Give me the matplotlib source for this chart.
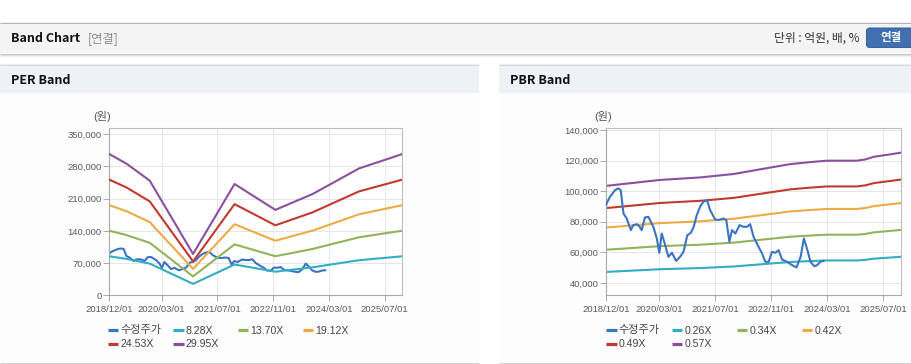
import matplotlib
matplotlib.use('Agg')
import matplotlib.pyplot as plt
import matplotlib.dates as mdates
from matplotlib.patches import Rectangle, FancyBboxPatch
from matplotlib.lines import Line2D
import numpy as np
import pandas as pd

# ---------------- data ----------------
price_dates = ['2018-12-01', '2018-12-04', '2019-01-02', '2019-02-15', '2019-03-14', '2019-04-05',
               '2019-04-29', '2019-05-27', '2019-07-02', '2019-07-23', '2019-08-23', '2019-09-13',
               '2019-10-04', '2019-11-01', '2019-12-01', '2020-01-13', '2020-02-12', '2020-03-05',
               '2020-03-26', '2020-04-25', '2020-05-23', '2020-06-22', '2020-07-29', '2020-08-31',
               '2020-10-01', '2020-11-03', '2020-12-04', '2020-12-28', '2021-01-24', '2021-02-24',
               '2021-03-23', '2021-04-23', '2021-05-20', '2021-07-02', '2021-08-01', '2021-09-13',
               '2021-10-07', '2021-11-03', '2021-11-25', '2021-12-25', '2022-01-31', '2022-03-05',
               '2022-04-05', '2022-05-02', '2022-06-01', '2022-07-14', '2022-08-14', '2022-09-10',
               '2022-10-10', '2022-11-07', '2022-12-07', '2023-01-04', '2023-02-03', '2023-03-18',
               '2023-05-02', '2023-06-08', '2023-07-14', '2023-08-11', '2023-09-07', '2023-10-08',
               '2023-11-10', '2023-12-04', '2024-01-01', '2024-01-28']
price_values = [90900, 92000, 96300, 100700, 101800, 100700,
                85400, 82100, 74500, 77800, 78400, 77100,
                74500, 82800, 83200, 76700, 69100, 59700,
                72300, 64700, 57000, 59700, 54400, 57000,
                60300, 71200, 72800, 76700, 84300, 90200,
                93100, 94200, 87600, 81500, 81100, 82100,
                81100, 66900, 74500, 72300, 77800, 76700,
                76700, 78400, 70100, 63600, 59200, 53800,
                53800, 60300, 59700, 61400, 55300, 53800,
                51600, 50100, 57000, 69100, 62500, 53800,
                50900, 51600, 53800, 54400]

per_dates = ['2018-12-01', '2019-05-01', '2019-11-19', '2020-12-01', '2021-11-28',
             '2022-11-19', '2023-10-10', '2024-11-19', '2025-05-16', '2025-12-01']
per_eps = [10250, 9550, 8320, 3000, 8080, 6200, 7350, 9210, 9700, 10250]
per_multiples = [8.28, 13.70, 19.12, 24.53, 29.95]
per_labels = ['8.28X', '13.70X', '19.12X', '24.53X', '29.95X']

pbr_dates = ['2018-12-01', '2020-03-11', '2021-02-24', '2021-12-10', '2022-07-29', '2023-04-17',
             '2023-10-08', '2024-03-02', '2024-11-15', '2025-01-28', '2025-04-11', '2025-09-01',
             '2025-12-01']
pbr_bps = [181500, 188300, 191200, 195100, 200500, 206500,
           208800, 210400, 210400, 211900, 214900, 217700, 219600]
pbr_multiples = [0.26, 0.34, 0.42, 0.49, 0.57]
pbr_labels = ['0.26X', '0.34X', '0.42X', '0.49X', '0.57X']

price_label = '수정주가'
x_tick_dates = ['2018-12-01', '2020-03-01', '2021-07-01', '2022-11-01', '2024-03-01', '2025-07-01']
x_tick_labels = ['2018/12/01', '2020/03/01', '2021/07/01', '2022/11/01', '2024/03/01', '2025/07/01']
per_yticks = [0, 70000, 140000, 210000, 280000, 350000]
pbr_yticks = [40000, 60000, 80000, 100000, 120000, 140000]

# ---------------- style ----------------
price_color = '#3b74c2'
band_colors = ['#31adc4', '#93b25a', '#eeaa45', '#c13a2d', '#8a509d']
W, H = 912, 364
KR = ['Liberation Sans', 'Noto Sans CJK KR']
KRB = ['Noto Sans CJK KR', 'DejaVu Sans']

fig = plt.figure(figsize=(W / 100, H / 100), dpi=100)
fig.patch.set_facecolor('white')

bg = fig.add_axes([0, 0, 1, 1])
bg.set_xlim(0, W)
bg.set_ylim(H, 0)
bg.axis('off')


def hline(y, x0, x1, color, lw=1.0):
    bg.plot([x0, x1], [y, y], color=color, lw=lw * 0.72, solid_capstyle='butt')


# header bar
bg.add_patch(Rectangle((0, 22), W, 31, facecolor='#f4f4f4', edgecolor='none'))
hline(22.5, 0, W, '#b3b3b3')
hline(53.5, 0, W, '#c4c4c4')
hline(54.5, 0, W, '#dedede')
hline(55.5, 0, W, '#efefef')
bg.text(11, 38.5, 'Band Chart', fontsize=9, fontweight='bold', family=KRB, color='#111111',
        va='center', ha='left')
bg.text(88, 38.5, '[연결]', fontsize=8.8, family=KRB, color='#8a8a8a', va='center', ha='left')
bg.text(860, 38.5, '단위 : 억원, 배, %', fontsize=8.5, family=KRB, color='#333333',
        va='center', ha='right')
bg.add_patch(FancyBboxPatch((866.5, 28), 50, 19.5, boxstyle='round,pad=0,rounding_size=3',
                            facecolor='#4070b0', edgecolor='#35609c', lw=0.7))
bg.text(891, 38, '연결', fontsize=8.3, fontweight='bold', family=KRB, color='white',
        va='center', ha='center')

# panels
for x0, x1, title in [(0, 479, 'PER Band'), (499, W, 'PBR Band')]:
    bg.add_patch(Rectangle((x0, 64), x1 - x0, 29, facecolor='#eef2f7', edgecolor='none'))
    bg.add_patch(Rectangle((x0, 93), x1 - x0, 269, facecolor='#fdfdfd', edgecolor='none'))
    hline(64.5, x0, x1, '#d6d6d6')
    hline(362.5, x0, x1, '#d4d4d4')
    bg.text(x0 + 11, 80, title, fontsize=9, fontweight='bold', family=KRB, color='#111111',
            va='center', ha='left')


def ax_rect(l, t, r, b):
    return [l / W, 1 - b / H, (r - l) / W, (b - t) / H]


pdates = pd.to_datetime(price_dates)
xt = pd.to_datetime(x_tick_dates)
xmin, xmax = pd.Timestamp('2018-12-01'), pd.Timestamp('2025-12-01')


def setup(ax, yticks, ylim):
    ax.set_facecolor('white')
    ax.set_xlim(xmin, xmax)
    ax.set_ylim(*ylim)
    ax.set_xticks(xt)
    ax.set_xticklabels(x_tick_labels)
    ax.set_yticks(yticks)
    ax.set_yticklabels([f'{v:,}' for v in yticks])
    ax.grid(True, color='#e6e6e6', lw=0.72)
    ax.set_axisbelow(True)
    for s in ax.spines.values():
        s.set_color('#bdbdbd')
        s.set_linewidth(0.8)
    ax.spines['left'].set_color('#a9a9a9')
    ax.spines['bottom'].set_color('#a9a9a9')
    ax.tick_params(axis='both', direction='out', length=4, width=0.7, color='#a9a9a9',
                   labelsize=6.8, labelcolor='#5a5a5a')
    ax.tick_params(axis='x', pad=3)
    ax.tick_params(axis='y', pad=1.5)
    for lab in ax.get_xticklabels() + ax.get_yticklabels():
        lab.set_family('Liberation Sans')


# PER
ax1 = fig.add_axes(ax_rect(109.3, 128.3, 402.3, 295.3))
setup(ax1, per_yticks, (0, 363000))
ax1.plot(pdates, price_values, color=price_color, lw=1.5, zorder=2)
ed = pd.to_datetime(per_dates)
for m, c in zip(per_multiples, band_colors):
    ax1.plot(ed, np.array(per_eps) * m, color=c, lw=1.5, zorder=3)

# PBR
ax2 = fig.add_axes(ax_rect(606.3, 128.3, 901, 295.3))
setup(ax2, pbr_yticks, (31900, 141100))
bd = pd.to_datetime(pbr_dates)
for m, c in zip(pbr_multiples, band_colors):
    ax2.plot(bd, np.array(pbr_bps) * m, color=c, lw=1.5, zorder=2)
ax2.plot(pdates, price_values, color=price_color, lw=1.5, zorder=3)

# unit labels
bg.text(111, 117, '(원)', fontsize=8, family=KR, color='#555555', va='center', ha='right')
bg.text(612, 117, '(원)', fontsize=8, family=KR, color='#555555', va='center', ha='right')


# legends
def legend(xs, labels):
    pos = [(xs[0], 330), (xs[1], 330), (xs[2], 330), (xs[3], 330), (xs[0], 343.5), (xs[1], 343.5)]
    colors = [price_color] + band_colors
    for (x, y), lab, c in zip(pos, labels, colors):
        bg.plot([x, x + 10.7], [y, y], color=c, lw=2.3, solid_capstyle='butt')
        bg.text(x + 12.5, y + 0.5, lab, fontsize=8 if lab == price_label else 7.6, family=KR,
                color='#444444', va='center', ha='left')


legend([107.7, 173.3, 237.7, 302.7], [price_label] + per_labels)
legend([606.3, 671.7, 736.7, 801.7], [price_label] + pbr_labels)

fig.savefig('out.png', dpi=100, facecolor='white')
